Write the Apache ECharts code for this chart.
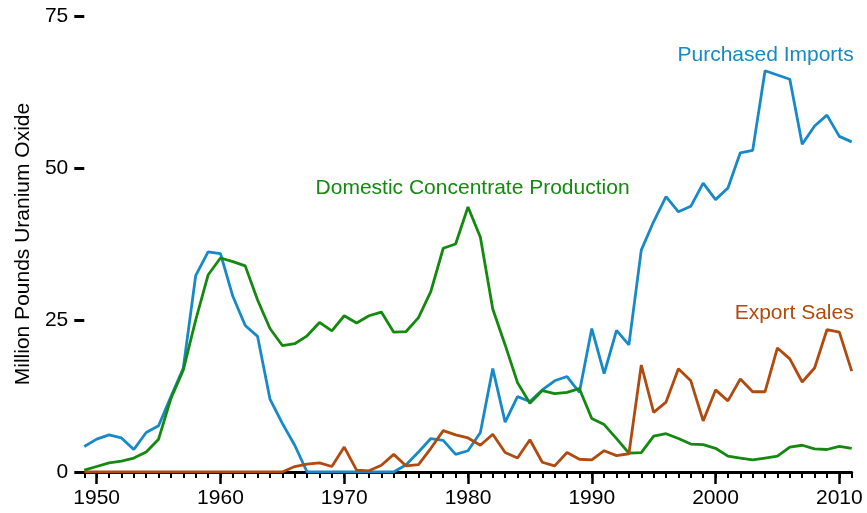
<!DOCTYPE html>
<html>
<head>
<meta charset="utf-8">
<script src="https://cdn.jsdelivr.net/npm/echarts@6/dist/echarts.min.js"></script>
<style>
  html, body { margin: 0; padding: 0; background: #fff; }
  #chart { width: 867px; height: 513px; }
</style>
</head>
<body>
<div id="chart"></div>
<script>
const years = [
  1949, 1950, 1951, 1952, 1953, 1954, 1955, 1956, 1957, 1958,
  1959, 1960, 1961, 1962, 1963, 1964, 1965, 1966, 1967, 1968,
  1969, 1970, 1971, 1972, 1973, 1974, 1975, 1976, 1977, 1978,
  1979, 1980, 1981, 1982, 1983, 1984, 1985, 1986, 1987, 1988,
  1989, 1990, 1991, 1992, 1993, 1994, 1995, 1996, 1997, 1998,
  1999, 2000, 2001, 2002, 2003, 2004, 2005, 2006, 2007, 2008,
  2009, 2010, 2011,
]

// million pounds U3O8
const purchasedImports = [
  4.2, 5.4, 6.1, 5.6, 3.7, 6.5, 7.6, 12.4, 17.1, 32.3,
  36.2, 35.9, 28.9, 24.1, 22.3, 12.0, 8.0, 4.4, 0, 0,
  0, 0, 0, 0, 0, 0, 1.2, 3.3, 5.5, 5.2,
  2.9, 3.5, 6.5, 17.0, 8.2, 12.4, 11.6, 13.5, 15.0, 15.7,
  13.1, 23.6, 16.2, 23.3, 20.9, 36.5, 41.2, 45.3, 42.8, 43.7,
  47.5, 44.8, 46.7, 52.5, 52.9, 66.0, 65.3, 64.6, 53.9, 56.9,
  58.7, 55.2, 54.3,
]
const domesticProduction = [
  0.3, 0.9, 1.5, 1.8, 2.3, 3.3, 5.4, 12.1, 16.8, 25.0,
  32.4, 35.2, 34.6, 33.9, 28.3, 23.6, 20.8, 21.1, 22.4, 24.6,
  23.2, 25.7, 24.5, 25.7, 26.3, 23.0, 23.1, 25.4, 29.7, 36.8,
  37.5, 43.6, 38.6, 26.8, 20.9, 14.7, 11.3, 13.4, 12.9, 13.1,
  13.7, 8.8, 7.8, 5.5, 3.1, 3.2, 5.9, 6.3, 5.5, 4.6,
  4.5, 3.9, 2.6, 2.3, 2.0, 2.3, 2.6, 4.1, 4.4, 3.8,
  3.7, 4.2, 3.9,
]
const exportSales = [
  0, 0, 0, 0, 0, 0, 0, 0, 0, 0,
  0, 0, 0, 0, 0, 0, 0, 0.9, 1.3, 1.5,
  0.9, 4.1, 0.3, 0.2, 1.1, 2.9, 1.0, 1.2, 3.9, 6.8,
  6.1, 5.6, 4.4, 6.2, 3.2, 2.3, 5.3, 1.6, 1.0, 3.2,
  2.1, 2.0, 3.5, 2.7, 3.0, 17.6, 9.8, 11.5, 17.0, 15.0,
  8.4, 13.5, 11.7, 15.3, 13.2, 13.2, 20.4, 18.6, 14.8, 17.1,
  23.4, 23.0, 16.6,
]

const decadeTicks = [1950, 1960, 1970, 1980, 1990, 2000, 2010]
const yTicks = [0, 25, 50, 75]

const blue = '#1689c6'
const green = '#13890f'
const brown = '#b04a0e'
const font = '"Liberation Sans", Arial, sans-serif'
const fs = 21

const pairs = (vals) => years.map((y, i) => [y, vals[i]])

// text placed in data space next to the lines
const tag = (text, coord, color, align, offset) => ({
  symbol: 'rect',
  symbolSize: 1,
  itemStyle: { color: 'transparent' },
  silent: true,
  data: [{ coord }],
  label: {
    show: true,
    position: 'inside',
    formatter: text,
    align,
    verticalAlign: 'middle',
    offset: offset || [0, 0],
    color,
    fontSize: fs,
    fontFamily: font,
  },
})

const chart = echarts.init(document.getElementById('chart'))

chart.setOption({
  animation: false,
  backgroundColor: '#fff',
  grid: { left: 84.3, right: 15.3, top: 16, bottom: 41 },
  xAxis: [
    {
      type: 'value',
      min: 1949,
      max: 2011,
      interval: 1,
      axisLine: { show: true, lineStyle: { color: '#000', width: 3 } },
      axisTick: { show: true, length: 6, lineStyle: { color: '#000', width: 2 } },
      axisLabel: { show: false },
      splitLine: { show: false },
    },
    {
      type: 'value',
      min: 1949,
      max: 2011,
      position: 'bottom',
      axisLine: { show: false },
      axisTick: { show: true, length: 12, customValues: decadeTicks, lineStyle: { color: '#000', width: 2.5 } },
      axisLabel: {
        customValues: decadeTicks,
        formatter: (v) => String(v),
        color: '#000',
        fontSize: fs,
        fontFamily: font,
        margin: 16,
      },
      splitLine: { show: false },
    },
  ],
  yAxis: {
    type: 'value',
    min: 0,
    max: 75,
    interval: 25,
    name: 'Million Pounds Uranium Oxide',
    nameLocation: 'middle',
    nameRotate: 90,
    nameGap: 49,
    nameTextStyle: { color: '#000', fontSize: fs, fontFamily: font },
    axisLine: { show: false },
    axisTick: { show: true, length: 10, lineStyle: { color: '#000', width: 3 } },
    axisLabel: {
      color: '#000',
      fontSize: fs,
      fontFamily: font,
      margin: 16,
      customValues: yTicks,
    },
    splitLine: { show: false },
  },
  series: [
    {
      name: 'Purchased Imports',
      type: 'line',
      data: pairs(purchasedImports),
      showSymbol: false,
      lineStyle: { color: blue, width: 2.8 },
      itemStyle: { color: blue },
      markPoint: tag('Purchased Imports', [2011, 68.6], blue, 'right', [2, 0]),
    },
    {
      name: 'Domestic Concentrate Production',
      type: 'line',
      data: pairs(domesticProduction),
      showSymbol: false,
      lineStyle: { color: green, width: 2.8 },
      itemStyle: { color: green },
      markPoint: tag('Domestic Concentrate Production', [1980.37, 46.6], green, 'center'),
    },
    {
      name: 'Export Sales',
      type: 'line',
      data: pairs(exportSales),
      showSymbol: false,
      lineStyle: { color: brown, width: 2.8 },
      itemStyle: { color: brown },
      markPoint: tag('Export Sales', [2011, 26.2], brown, 'right', [2, 0]),
    },
  ],
})
</script>
</body>
</html>
